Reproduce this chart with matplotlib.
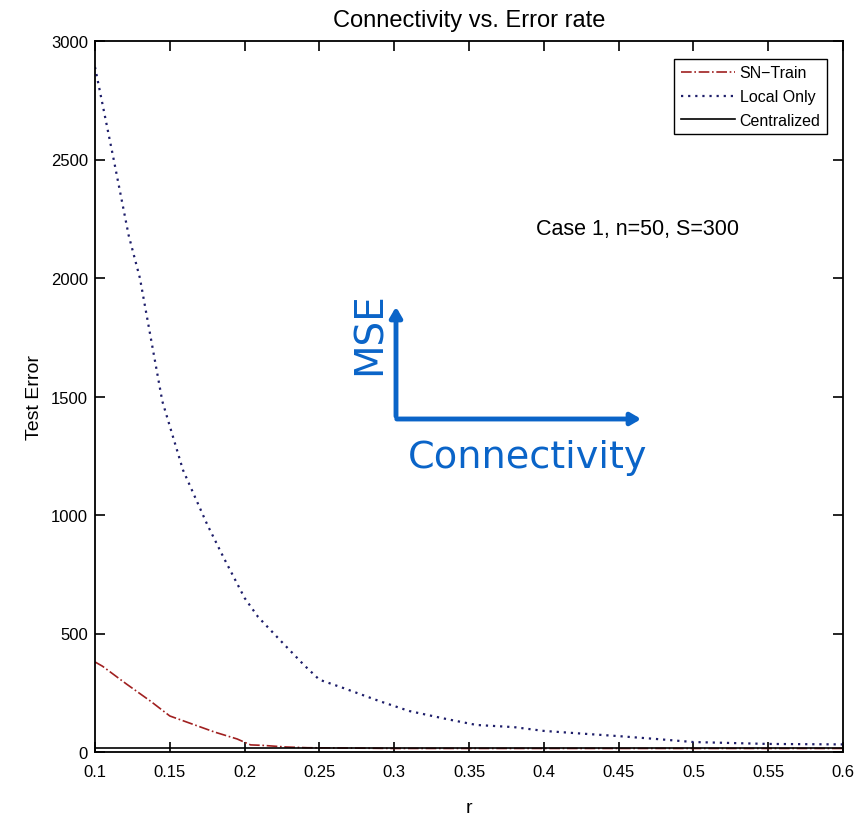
import matplotlib
matplotlib.use("Agg")
import matplotlib.pyplot as plt
from matplotlib import font_manager

# ---- data ----
r_local = [0.100, 0.1125, 0.1225, 0.130, 0.145, 0.1588, 0.175, 0.186, 0.200, 0.209,
           0.2243, 0.240, 0.250, 0.266, 0.290, 0.310, 0.335, 0.355, 0.380, 0.400,
           0.420, 0.450, 0.475, 0.500, 0.525, 0.550, 0.575, 0.600]
local_only = [2890, 2500, 2180, 2000, 1480, 1190, 960, 820, 650, 570,
              468, 365, 305, 270, 215, 173, 139, 114, 105, 89,
              80, 67, 55, 42, 38, 34, 33, 32]

r_sn = [0.100, 0.105, 0.121, 0.137, 0.150, 0.165, 0.180, 0.195, 0.204, 0.212,
        0.228, 0.242, 0.300, 0.400, 0.500, 0.600]
sn_train = [380, 362, 287, 215, 152, 118, 84, 55, 30, 28,
            21, 18, 15, 15, 15, 15]

r_cent = [0.1, 0.2, 0.3, 0.4, 0.5, 0.6]
centralized = [15, 15, 15, 15, 15, 15]

x_ticks = [0.1, 0.15, 0.2, 0.25, 0.3, 0.35, 0.4, 0.45, 0.5, 0.55, 0.6]
x_tick_labels = ["0.1", "0.15", "0.2", "0.25", "0.3", "0.35", "0.4", "0.45", "0.5", "0.55", "0.6"]
y_ticks = [0, 500, 1000, 1500, 2000, 2500, 3000]
y_tick_labels = ["0", "500", "1000", "1500", "2000", "2500", "3000"]

names = {f.name for f in font_manager.fontManager.ttflist}
narrow = "Liberation Sans Narrow" if "Liberation Sans Narrow" in names else "Liberation Sans"

fig = plt.figure(figsize=(8.65, 8.2), dpi=100)
ax = fig.add_axes([95/865, 1-753/820, (843-95)/865, (753-42)/820])

ax.plot(r_sn, sn_train, color="#a02020", linestyle="-.", linewidth=1.2, label="SN\u2212Train")
ax.plot(r_local, local_only, color="#1e1e6a", linestyle=(0, (1, 2.2)), linewidth=1.6, label="Local Only")
ax.plot(r_cent, centralized, color="black", linestyle="-", linewidth=1.2, label="Centralized")

ax.set_xlim(0.1, 0.6)
ax.set_ylim(0, 3000)
ax.set_xticks(x_ticks)
ax.set_xticklabels(x_tick_labels, fontfamily=narrow, fontsize=12)
ax.set_yticks(y_ticks)
ax.set_yticklabels(y_tick_labels, fontfamily=narrow, fontsize=12)
ax.tick_params(direction="in", top=True, right=True, length=7, width=1.2)
ax.tick_params(axis="x", pad=9)
ax.tick_params(axis="y", pad=5)
for s in ax.spines.values():
    s.set_linewidth(1.3)

ax.set_title("Connectivity vs. Error rate", fontfamily=narrow, fontsize=17, pad=11)
ax.set_ylabel("Test Error", fontfamily="Liberation Sans", fontsize=14, labelpad=6)
ax.set_xlabel("r", fontfamily="Liberation Sans", fontsize=14, labelpad=14)

leg = ax.legend(loc="upper right", prop={"family": narrow, "size": 11.5}, frameon=True,
                fancybox=False, edgecolor="black", framealpha=1, borderpad=0.4,
                labelspacing=0.55, handlelength=3.4, handletextpad=0.3,
                borderaxespad=0,
                bbox_to_anchor=(1 - 16/748, 1 - 18/711))
leg.get_frame().set_linewidth(1.0)

ax.text((638 - 95) / 748, 1 - (230 - 42) / 711, "Case 1, n=50, S=300", transform=ax.transAxes,
        fontfamily=narrow, fontsize=15.5, ha="center", va="center")

# ---- blue overlay annotation ----
blue = "#0a64c8"
def fx(px):
    return px / 865
def fy(py):
    return 1 - py / 820
fig.add_artist(matplotlib.patches.FancyArrowPatch((fx(396), fy(420)), (fx(396), fy(305)),
               transform=fig.transFigure, arrowstyle="-|>,head_length=6,head_width=3.5",
               color=blue, linewidth=3.5, mutation_scale=1))
fig.add_artist(matplotlib.patches.FancyArrowPatch((fx(394), fy(420)), (fx(644), fy(420)),
               transform=fig.transFigure, arrowstyle="-|>,head_length=6,head_width=3.5",
               color=blue, linewidth=3.5, mutation_scale=1))
fig.text(fx(370), fy(334), "MSE", rotation=90, color=blue, fontfamily="DejaVu Sans",
         fontsize=28, ha="center", va="center")
fig.text(fx(528), fy(458), "Connectivity", color=blue, fontfamily="DejaVu Sans",
         fontsize=27.5, ha="center", va="center")

fig.savefig("out.png", dpi=100)
